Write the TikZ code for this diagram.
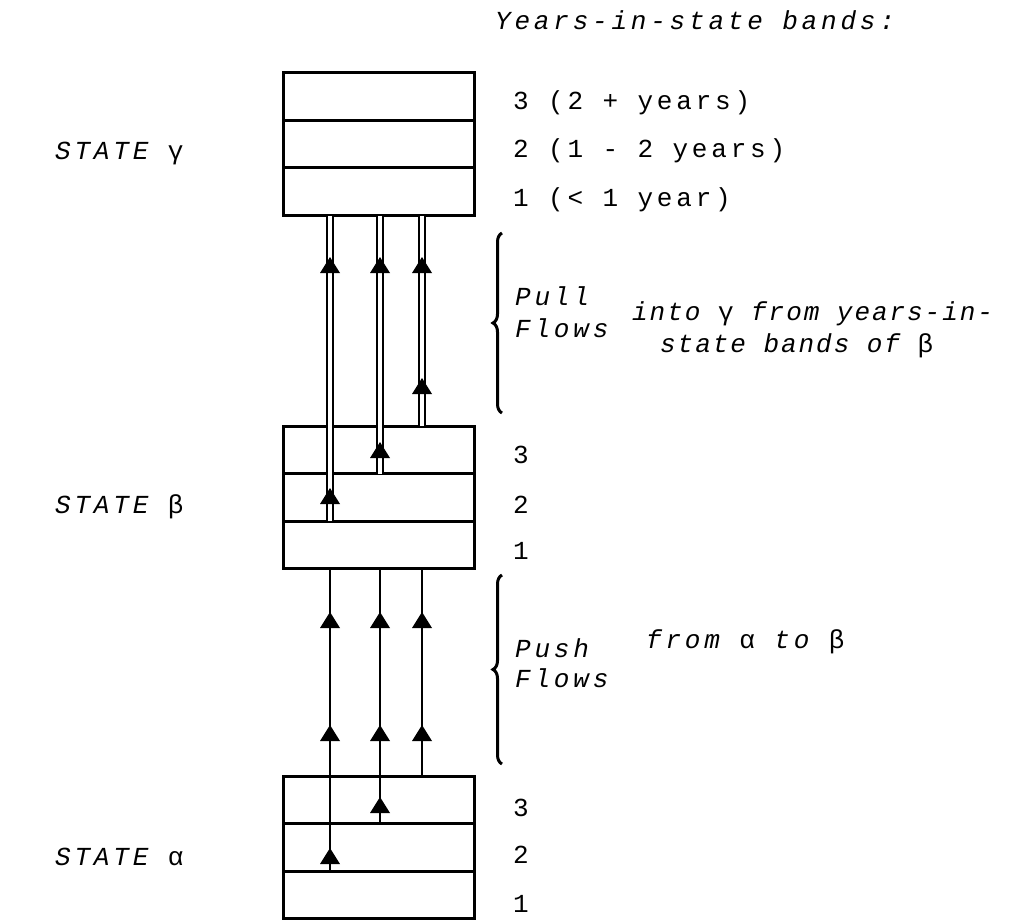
\documentclass[tikz,border=0pt]{standalone}
\usepackage{fontspec}
\usetikzlibrary{decorations.markings,decorations.pathreplacing}
\newfontfamily\tw[LetterSpace=14.6]{Liberation Mono}
\newfontfamily\twn[LetterSpace=7.5]{Liberation Mono}
\begin{document}
\begin{tikzpicture}[x=1pt,y=-1pt,
  band/.style={draw,line width=3pt,minimum width=191pt,minimum height=47.5pt,inner sep=0pt,outer sep=0pt},
  flow/.style={line width=2.8pt},
  pull/.style={double,line width=2.4pt,double distance=3.2pt},
  flowtip/.style={postaction={decorate,decoration={markings,mark=at position #1 with {\fill (0pt,0pt)--(-16pt,10pt)--(-16pt,-10pt)--cycle;}}}},
  bracestyle/.style={line width=3pt,decorate,decoration={brace,amplitude=9pt}},
  lbl/.style={anchor=base west,inner sep=0pt,font=\tw\fontsize{26}{30}\selectfont},
  ilbl/.style={anchor=base west,inner sep=0pt,font=\tw\itshape\fontsize{26}{30}\selectfont},
  nlbl/.style={anchor=base west,inner sep=0pt,font=\twn\itshape\fontsize{26}{30}\selectfont}
]
\useasboundingbox (0,0) rectangle (1022,920);

% columns
\coordinate (c1) at (330,0);
\coordinate (c2) at (380,0);
\coordinate (c3) at (422,0);

% state gamma
\node[band] (g3) at (378.5,96.75) {};
\node[band] (g2) at (378.5,144.25) {};
\node[band] (g1) at (378.5,191.75) {};
% state beta
\node[band] (b3) at (378.5,449.75) {};
\node[band] (b2) at (378.5,497.25) {};
\node[band] (b1) at (378.5,544.75) {};
% state alpha
\node[band] (a3) at (378.5,799.75) {};
\node[band] (a2) at (378.5,847.25) {};
\node[band] (a1) at (378.5,894.75) {};

% pull flows (double lines)
\draw[pull,flowtip=33pt,flowtip=264pt] (b1.north -| c1) -- (g1.south -| c1);
\draw[pull,flowtip=31.5pt,flowtip=216.5pt] (b2.north -| c2) -- (g1.south -| c2);
\draw[pull,flowtip=48pt,flowtip=169pt] (b3.north -| c3) -- (g1.south -| c3);

% push flows
\draw[flow,flowtip=23pt,flowtip=146pt,flowtip=259pt] (a1.north -| c1) -- (b1.south -| c1);
\draw[flow,flowtip=26.5pt,flowtip=98.5pt,flowtip=211.5pt] (a2.north -| c2) -- (b1.south -| c2);
\draw[flow,flowtip=51pt,flowtip=164pt] (a3.north -| c3) -- (b1.south -| c3);

% braces
\coordinate (pullbot) at (502,413);
\coordinate (pulltop) at (502,233);
\coordinate (pushbot) at (502,764);
\coordinate (pushtop) at (502,575);
\draw[bracestyle] (pullbot) -- (pulltop);
\draw[bracestyle] (pushbot) -- (pushtop);

% texts
\node[ilbl] (title) at (495,30) {Years-in-state bands:};
\node[lbl] (g3t) at (513,110) {3 (2 + years)};
\node[lbl] (g2t) at (513,158) {2 (1 - 2 years)};
\node[lbl] (g1t) at (513,207) {1 (< 1 year)};
\node[lbl] (b3t) at (513,463) {3};
\node[lbl] (b2t) at (513,513) {2};
\node[lbl] (b1t) at (513,559) {1};
\node[lbl] (a3t) at (513,816) {3};
\node[lbl] (a2t) at (513,863) {2};
\node[lbl] (a1t) at (513,912) {1};

\node[ilbl] (sg) at (55,160) {STATE {\upshape γ}};
\node[ilbl] (sb) at (55,513) {STATE {\upshape β}};
\node[ilbl] (sa) at (55,865) {STATE {\upshape α}};

\node[ilbl] (pull1) at (515,305) {Pull};
\node[ilbl] (pull2) at (515,337) {Flows};
\node[nlbl] (into1) at (632,320) {into {\upshape γ} from years-in-};
\node[nlbl] (into2) at (660,352) {state bands of {\upshape β}};

\node[ilbl] (push1) at (515,657) {Push};
\node[ilbl] (push2) at (515,687) {Flows};
\node[ilbl] (fromab) at (646,648) {from {\upshape α} to {\upshape β}};
\end{tikzpicture}
\end{document}
